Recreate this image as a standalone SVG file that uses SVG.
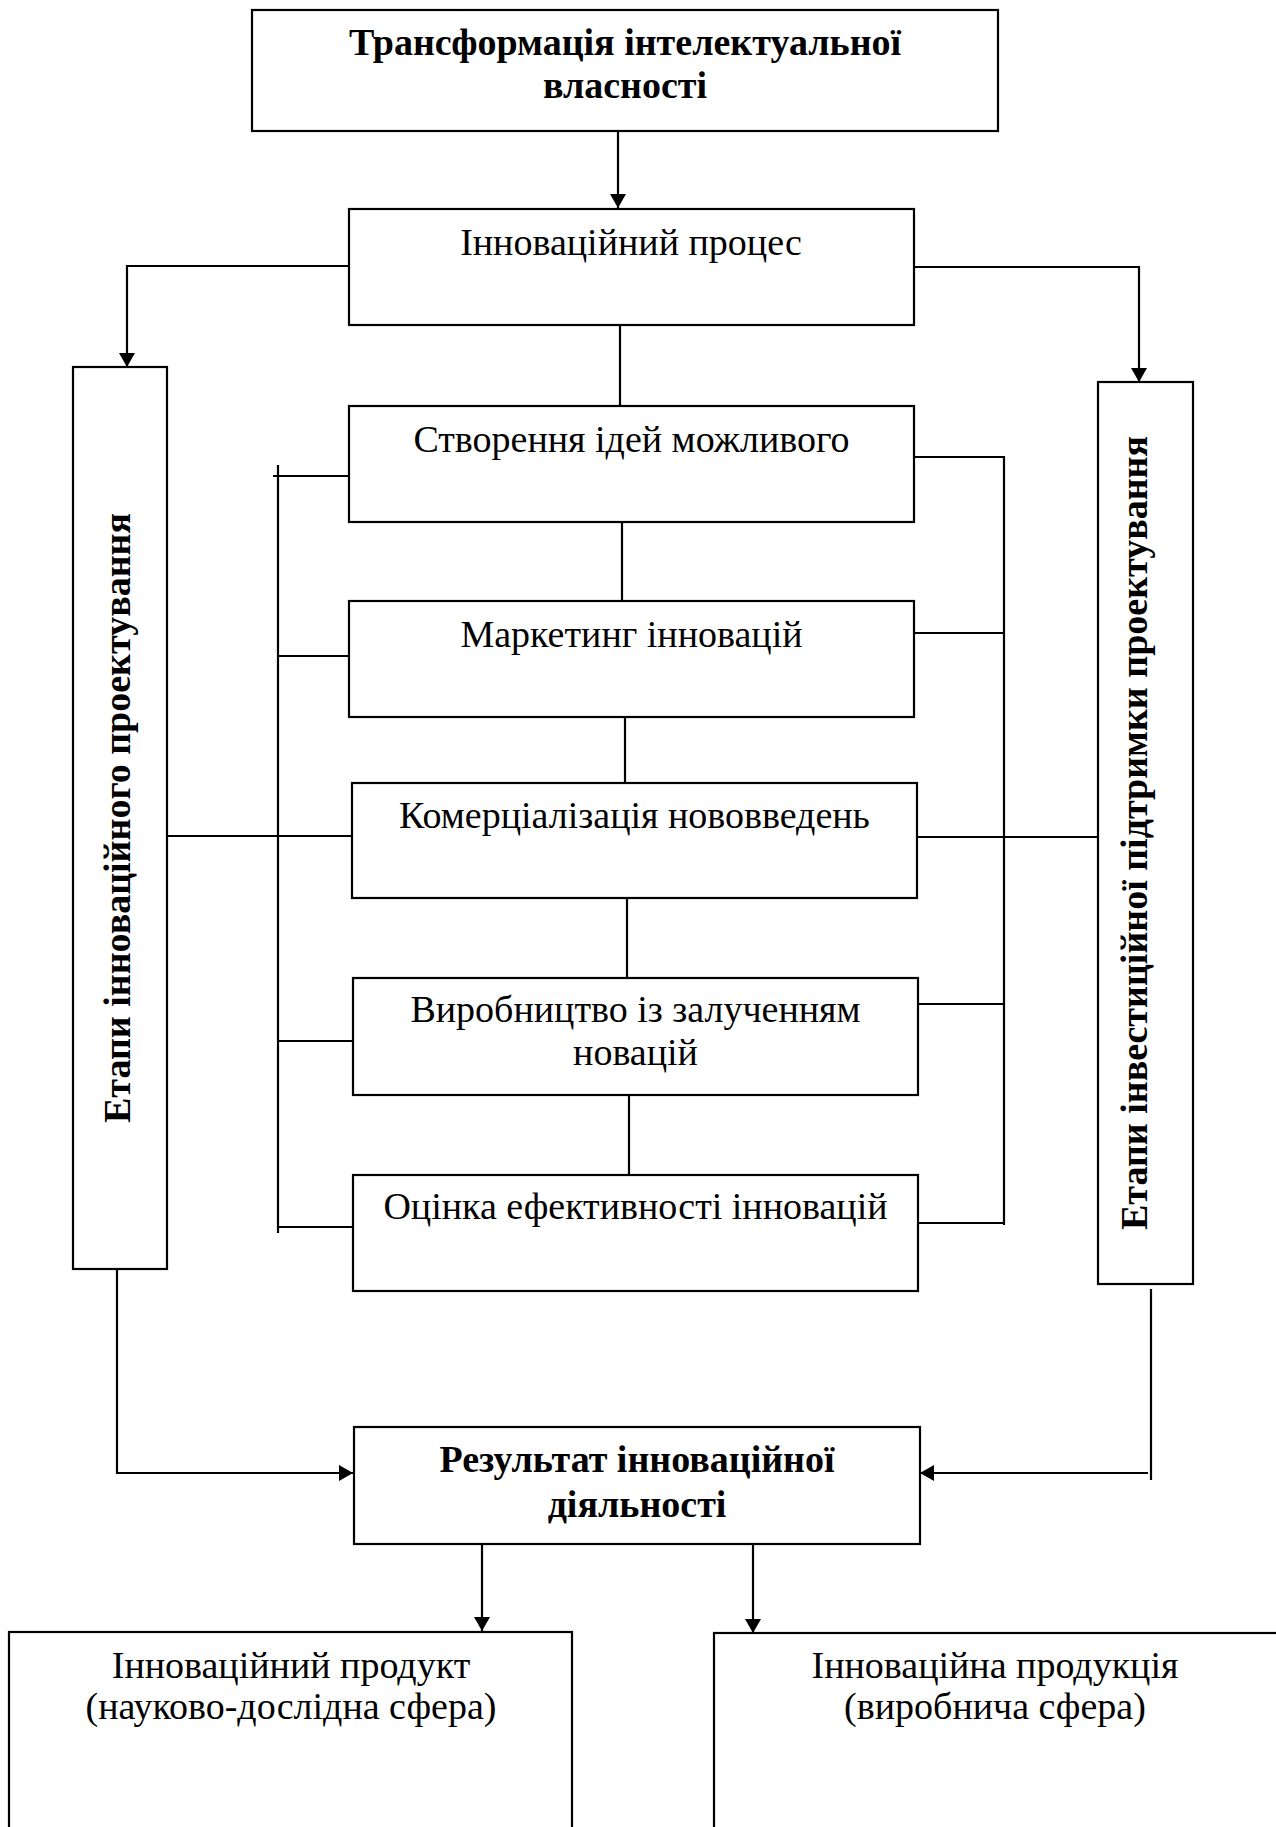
<svg xmlns="http://www.w3.org/2000/svg" width="1276" height="1827" viewBox="0 0 1276 1827">
<defs>
<style>
.box{fill:#fff;stroke:#000;stroke-width:2.2}
.ln{fill:none;stroke:#000;stroke-width:2.2}
.t{font-family:"Liberation Serif","Times New Roman",serif;font-size:38px;fill:#000;text-anchor:middle}
.b{font-weight:bold;font-size:38px}
</style>
<marker id="arr" markerUnits="userSpaceOnUse" markerWidth="16" markerHeight="16" refX="14" refY="8" orient="auto" viewBox="0 0 14 16">
<path d="M0,0 L14,8 L0,16 Z" fill="#000"/>
</marker>
</defs>
<rect width="1276" height="1827" fill="#fff"/>

<g id="connectors">
<path class="ln" d="M618,131 V208" marker-end="url(#arr)"/>
<path class="ln" d="M349,266 H127 V367" marker-end="url(#arr)"/>
<path class="ln" d="M914,267 H1139 V382" marker-end="url(#arr)"/>
<path class="ln" d="M620,325 V406"/>
<path class="ln" d="M622,522 V601"/>
<path class="ln" d="M625,717 V783"/>
<path class="ln" d="M627,898 V978"/>
<path class="ln" d="M629,1095 V1175"/>
<path class="ln" d="M278,465 V1233"/>
<path class="ln" d="M273,476 H351"/>
<path class="ln" d="M278,656 H349"/>
<path class="ln" d="M167,836 H352"/>
<path class="ln" d="M278,1041 H353"/>
<path class="ln" d="M278,1227 H353"/>
<path class="ln" d="M914,457 H1004 V1225"/>
<path class="ln" d="M914,633 H1004"/>
<path class="ln" d="M917,837 H1098"/>
<path class="ln" d="M918,1004 H1004"/>
<path class="ln" d="M918,1223 H1004"/>
<path class="ln" d="M117,1269 V1473 H353" marker-end="url(#arr)"/>
<path class="ln" d="M1151,1289 V1480"/>
<path class="ln" d="M1148,1473 H920" marker-end="url(#arr)"/>
<path class="ln" d="M482,1544 V1631" marker-end="url(#arr)"/>
<path class="ln" d="M753,1544 V1633" marker-end="url(#arr)"/>
</g>

<g id="n-transform">
<rect class="box" x="252" y="10" width="746" height="121"/>
<text class="t b" x="625" y="55">Трансформація інтелектуальної</text>
<text class="t b" x="625" y="98">власності</text>
</g>

<g id="n-process">
<rect class="box" x="349" y="209" width="565" height="116"/>
<text class="t" x="631" y="255">Інноваційний процес</text>
</g>

<g id="n-left">
<rect class="box" x="73" y="367" width="94" height="902"/>
<text class="t b" transform="translate(130,818) rotate(-90)" x="0" y="0">Етапи інноваційного проектування</text>
</g>

<g id="n-right">
<rect class="box" x="1098" y="382" width="95" height="902"/>
<text class="t b" transform="translate(1147,833) rotate(-90)" x="0" y="0">Етапи інвестиційної підтримки проектування</text>
</g>

<g id="n-ideas">
<rect class="box" x="349" y="406" width="565" height="116"/>
<text class="t" x="631.5" y="452">Створення ідей можливого</text>
</g>

<g id="n-marketing">
<rect class="box" x="349" y="601" width="565" height="116"/>
<text class="t" x="631.5" y="647">Маркетинг інновацій</text>
</g>

<g id="n-commerce">
<rect class="box" x="352" y="783" width="565" height="115"/>
<text class="t" x="634.5" y="828">Комерціалізація нововведень</text>
</g>

<g id="n-production">
<rect class="box" x="353" y="978" width="565" height="117"/>
<text class="t" x="635.5" y="1022">Виробництво із залученням</text>
<text class="t" x="635.5" y="1065">новацій</text>
</g>

<g id="n-evaluation">
<rect class="box" x="353" y="1175" width="565" height="116"/>
<text class="t" x="635.5" y="1219">Оцінка ефективності інновацій</text>
</g>

<g id="n-result">
<rect class="box" x="354" y="1427" width="566" height="117"/>
<text class="t b" x="637" y="1472">Результат інноваційної</text>
<text class="t b" x="637" y="1517">діяльності</text>
</g>

<g id="n-product">
<rect class="box" x="9" y="1632" width="563" height="220"/>
<text class="t" x="291" y="1678">Інноваційний продукт</text>
<text class="t" x="291" y="1719">(науково-дослідна сфера)</text>
</g>

<g id="n-products">
<rect class="box" x="714" y="1633" width="580" height="220"/>
<text class="t" x="995" y="1678">Інноваційна продукція</text>
<text class="t" x="995" y="1719">(виробнича сфера)</text>
</g>
</svg>
